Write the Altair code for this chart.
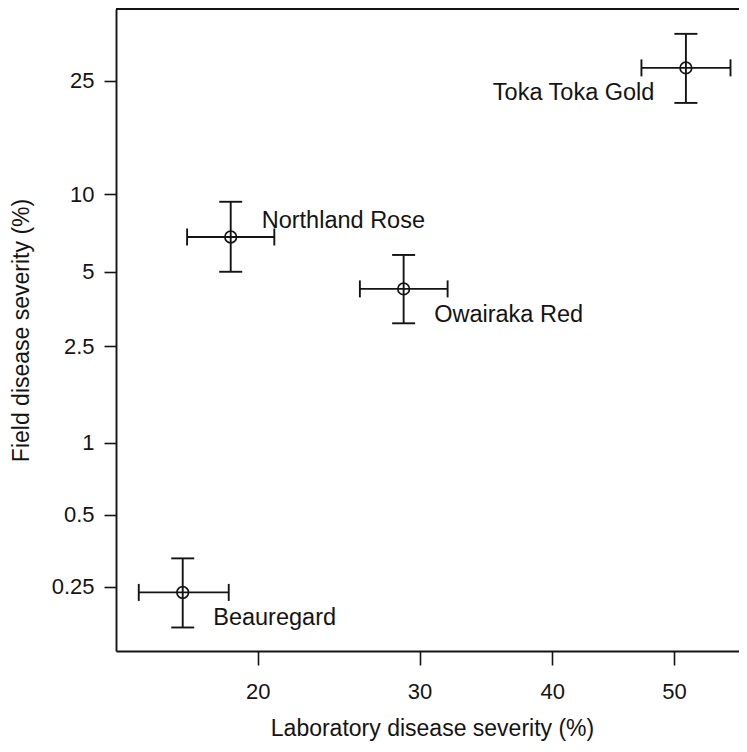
import altair as alt
import numpy as np
import pandas as pd

# ---- data (percent) ----
cultivars = ["Toka Toka Gold", "Northland Rose", "Owairaka Red", "Beauregard"]
lab = [51.0, 18.6, 28.9, 16.3]
lab_lo = [47.3, 16.5, 26.0, 14.4]
lab_hi = [54.7, 20.9, 32.0, 18.5]
field = [27.4, 6.86, 4.27, 0.237]
field_lo = [21.2, 5.0, 3.10, 0.169]
field_hi = [34.4, 9.38, 5.83, 0.329]

x_ticks = [20, 30, 40, 50]
y_ticks = [0.25, 0.5, 1, 2.5, 5, 10, 25]
x_limits = [13.49, 55.40]
y_limits = [0.1347, 40.0]


def logit(p):
    return float(np.log(p / (100.0 - p)))


df = pd.DataFrame({
    "cultivar": cultivars,
    "lab": lab, "lab_lo": lab_lo, "lab_hi": lab_hi,
    "field": field, "field_lo": field_lo, "field_hi": field_hi,
})

FONT = "Liberation Sans"
INK = "#141414"
W, H = 623, 642
LW = 1.9

label_expr = "format(100/(1+exp(-datum.value)), '.2~r')"

xscale = alt.Scale(domain=[logit(v) for v in x_limits], nice=False, zero=False)
yscale = alt.Scale(domain=[logit(v) for v in y_limits], nice=False, zero=False)

xaxis = alt.Axis(values=[logit(v) for v in x_ticks], labelExpr=label_expr,
                 title="Laboratory disease severity (%)", tickSize=14,
                 labelPadding=16, titlePadding=15, titleX=316)
yaxis = alt.Axis(values=[logit(v) for v in y_ticks], labelExpr=label_expr,
                 title="Field disease severity (%)", tickSize=12,
                 labelPadding=10, titlePadding=18)


def X(f):
    return alt.X(f, type="quantitative", scale=xscale, axis=xaxis)


def Y(f):
    return alt.Y(f, type="quantitative", scale=yscale, axis=yaxis)


base = alt.Chart(df).transform_calculate(
    lx="log(datum.lab/(100-datum.lab))",
    lx_lo="log(datum.lab_lo/(100-datum.lab_lo))",
    lx_hi="log(datum.lab_hi/(100-datum.lab_hi))",
    ly="log(datum.field/(100-datum.field))",
    ly_lo="log(datum.field_lo/(100-datum.field_lo))",
    ly_hi="log(datum.field_hi/(100-datum.field_hi))",
)

hbar = base.mark_rule(color=INK, strokeWidth=LW).encode(
    x=X("lx_lo"), x2="lx_hi", y=Y("ly"))
vbar = base.mark_rule(color=INK, strokeWidth=LW).encode(
    x=X("lx"), y=Y("ly_lo"), y2="ly_hi")

cap_l = base.mark_tick(orient="vertical", size=17, thickness=LW, color=INK,
                       opacity=1).encode(x=X("lx_lo"), y=Y("ly"))
cap_r = base.mark_tick(orient="vertical", size=17, thickness=LW, color=INK,
                       opacity=1).encode(x=X("lx_hi"), y=Y("ly"))
cap_b = base.mark_tick(orient="horizontal", size=23, thickness=LW, color=INK,
                       opacity=1).encode(x=X("lx"), y=Y("ly_lo"))
cap_t = base.mark_tick(orient="horizontal", size=23, thickness=LW, color=INK,
                       opacity=1).encode(x=X("lx"), y=Y("ly_hi"))

pts = base.mark_point(shape="circle", filled=False, size=135, strokeWidth=1.7,
                      color=INK, opacity=1).encode(x=X("lx"), y=Y("ly"))

txt_kw = dict(fontSize=23.5, font=FONT, color=INK, baseline="alphabetic")
t_low = base.transform_filter(
    alt.FieldOneOfPredicate(field="cultivar", oneOf=["Owairaka Red", "Beauregard"])
).mark_text(align="left", dx=30.5, dy=33, **txt_kw).encode(
    x=X("lx"), y=Y("ly"), text="cultivar")
t_nr = base.transform_filter(alt.datum.cultivar == "Northland Rose").mark_text(
    align="left", dx=31, dy=-8.5, **txt_kw).encode(
    x=X("lx"), y=Y("ly"), text="cultivar")
t_tt = base.transform_filter(alt.datum.cultivar == "Toka Toka Gold").mark_text(
    align="right", dx=-31.5, dy=32.5, **txt_kw).encode(
    x=X("lx"), y=Y("ly"), text="cultivar")

top_line = alt.Chart(alt.Data(values=[{}])).mark_rule(
    color=INK, strokeWidth=LW).encode(
    x=alt.value(0), x2=alt.value(W), y=alt.value(0))

chart = alt.layer(
    hbar, vbar, cap_l, cap_r, cap_b, cap_t, pts, t_low, t_nr, t_tt, top_line
).properties(
    width=W, height=H,
    autosize=alt.AutoSizeParams(type="none"),
    padding={"left": 108, "top": 1, "right": 0, "bottom": 93},
    background="white",
).configure_view(stroke=None).configure_axis(
    grid=False,
    domainColor=INK, domainWidth=LW,
    tickColor=INK, tickWidth=1.6,
    labelFont=FONT, labelFontSize=22, labelColor=INK,
    titleFont=FONT, titleFontSize=23, titleColor=INK, titleFontWeight="normal",
)

chart.save("out.html", embed_options={"renderer": "svg", "actions": False})
